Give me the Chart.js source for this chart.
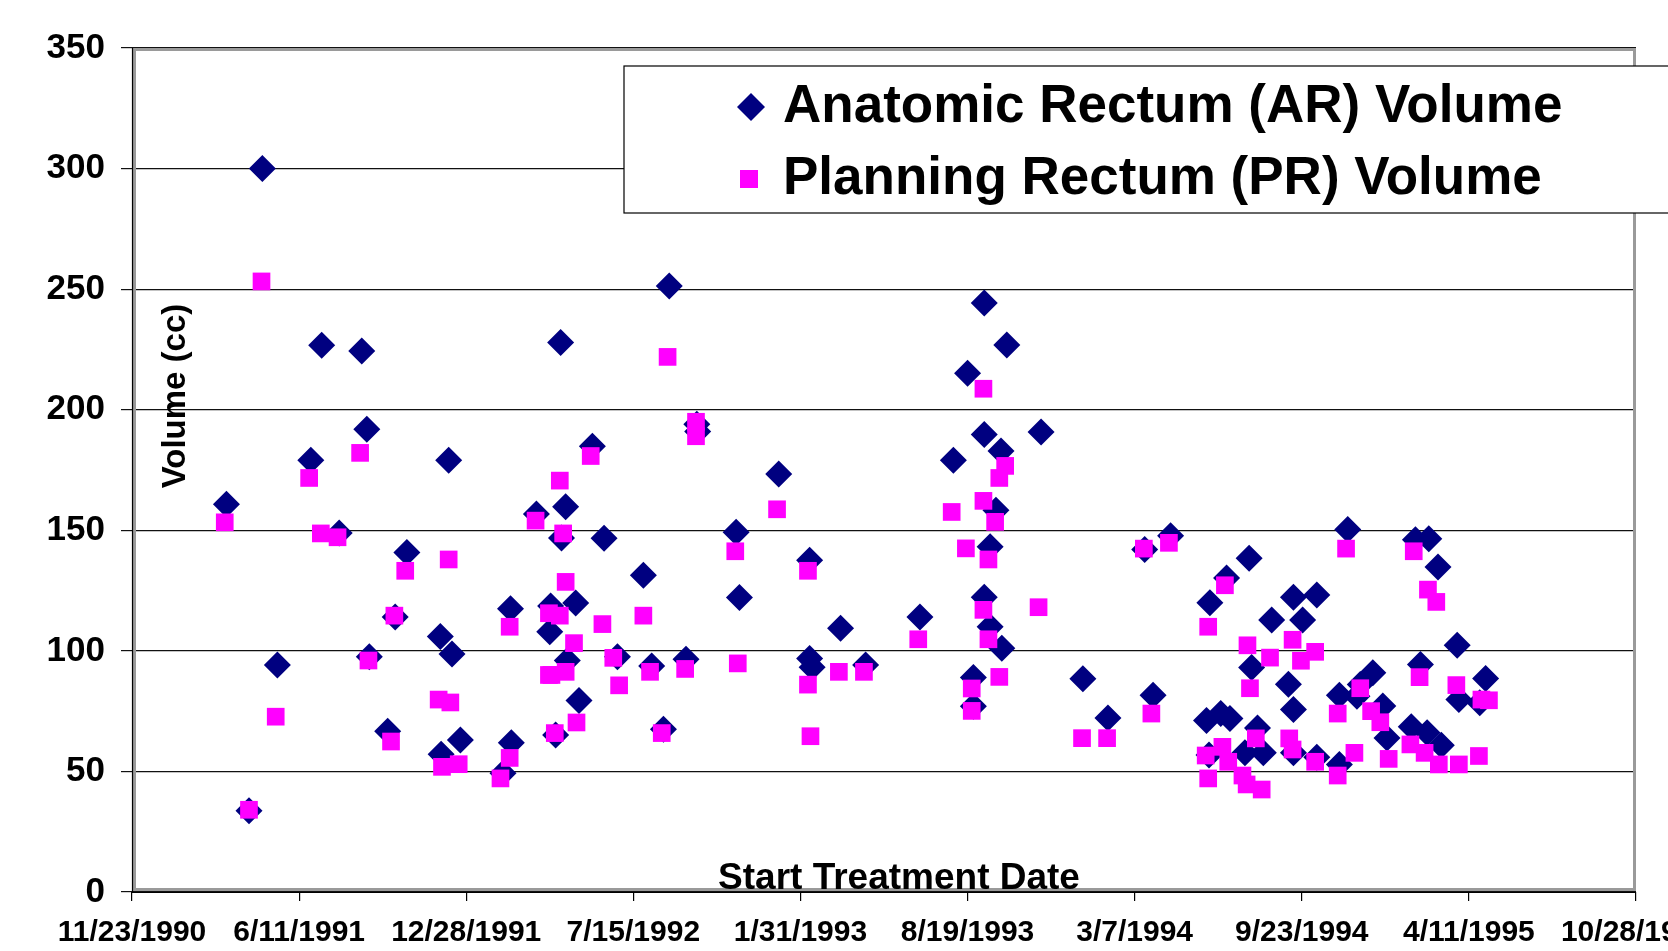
<!DOCTYPE html>
<html><head><meta charset="utf-8">
<script src="https://cdn.jsdelivr.net/npm/chart.js@4.4.1/dist/chart.umd.min.js"></script>
<style>html,body{margin:0;padding:0;background:#fff;overflow:hidden}</style>
</head><body>
<canvas id="c" width="1668" height="951"></canvas>
<script>
// ---------- data (x values are Excel date serials: 33200 = 11/23/1990) ----------
const seriesNames = ['Anatomic Rectum (AR) Volume', 'Planning Rectum (PR) Volume'];
const xTitle = 'Start Treatment Date';
const yTitle = 'Volume (cc)';
const xTickValues = [33200, 33400, 33600, 33800, 34000, 34200, 34400, 34600, 34800, 35000];
const xTickLabels = ['11/23/1990', '6/11/1991', '12/28/1991', '7/15/1992', '1/31/1993',
                     '8/19/1993', '3/7/1994', '9/23/1994', '4/11/1995', '10/28/1995'];
const yTickValues = [0, 50, 100, 150, 200, 250, 300, 350];

const arDates = [33313,33340,33356,33374,33414,33427,33448,33475,33481,33484,33506,33515,33529,
  33569,33570,33579,33583,33593,33644,33653,33654,33684,33700,33701,33707,33713,33714,33719,
  33721,33731,33735,33751,33765,33781,33812,33822,33836,33843,33863,33876,33877,33923,33927,
  33974,34011,34011,34014,34048,34078,34143,34183,34200,34207,34207,34220,34220,34220,34227,
  34227,34234,34240,34241,34247,34288,34338,34368,34412,34422,34443,34486,34489,34490,34503,
  34510,34514,34532,34537,34540,34547,34554,34564,34584,34590,34590,34590,34601,34618,34618,
  34645,34645,34655,34666,34670,34685,34697,34702,34731,34736,34742,34750,34752,34763,34767,
  34786,34788,34813,34820];
const arVolumes = [160.8,33.7,300,94.1,179.0,226.7,148.9,224.4,191.9,97.6,66.7,114.0,140.8,
  106.0,57.1,179.0,98.7,63.0,49.2,117.5,61.9,156.8,107.9,118.6,65.1,227.9,146.8,159.8,
  96.0,119.8,79.4,184.9,146.7,97.6,131.4,93.7,67.5,251.3,96.5,194,191,149.2,122.1,
  173.3,137.6,96.8,93.2,109.4,94.1,114.0,179.0,215.1,88.9,77.0,244.3,189.7,122.2,143.2,
  110.0,158.3,182.9,101.1,226.8,190.8,88.4,72.2,142.0,81.6,147.7,71.1,56.8,119.9,74,
  130.2,72,57.7,138.4,93.1,68.0,57.7,112.8,86.2,57.7,75.7,122.2,112.8,55.9,123.2,
  81.6,52.9,150.3,81.2,86,90.9,77.1,63.9,68.5,146.1,94.3,66.0,146.5,134.8,60.9,
  102.3,79.8,78.5,88.5];

const prDates = [33311,33340,33355,33372,33412,33426,33446,33473,33483,33510,33514,33527,
  33567,33571,33579,33581,33591,33641,33652,33652,33683,33699,33699,33702,33706,33712,33712,
  33716,33719,33719,33729,33732,33749,33763,33776,33783,33812,33820,33834,33841,33862,33875,
  33875,33922,33925,33972,34009,34009,34012,34046,34076,34141,34181,34198,34205,34205,34219,
  34219,34219,34225,34225,34233,34238,34238,34245,34285,34337,34367,34411,34420,34441,34485,
  34488,34488,34505,34508,34512,34529,34534,34535,34538,34545,34552,34562,34585,34589,34589,
  34599,34616,34616,34643,34643,34653,34663,34670,34683,34694,34704,34730,34734,34741,34747,
  34751,34761,34764,34785,34788,34812,34815,34824];
const prVolumes = [153.3,34.1,253.2,72.7,171.7,148.7,147.1,182.1,96.0,62.4,114.6,133.2,
  79.8,51.9,137.9,78.6,53.0,47.1,110.0,55.6,154.0,115.6,90.0,90.0,65.9,170.6,114.6,
  148.7,128.6,91.3,103.2,70.3,180.8,111.1,97.1,85.7,114.6,91.3,65.9,221.9,92.5,195,
  189,141.3,94.8,158.7,133.2,86.0,64.6,91.3,91.3,104.8,157.6,142.5,84.4,75.1,208.7,
  162.2,117.0,137.9,104.8,153.5,171.7,89.2,176.7,118.1,63.8,63.8,142.4,74.0,144.8,56.6,
  47.1,110.0,60.2,127.2,54.0,48.3,44.6,102.3,84.5,63.7,42.5,97.2,63.7,104.6,59.1,
  95.9,99.6,54.0,74.0,48.3,142.4,57.7,84.5,75.0,70.4,55.2,61.2,141.3,89.1,57.7,
  125.4,120.3,52.9,85.8,52.9,56.4,79.8,79.5];

// ---------- styles ----------
const FONT = "'Liberation Sans', Arial, sans-serif";
const AR_COLOR = '#000080';
const PR_COLOR = '#FF00FF';

const toPoints = (xs, ys) => xs.map((x, i) => ({ x: x, y: ys[i] }));

const framePlugin = {
  id: 'frame',
  beforeDatasetsDraw(chart) {
    const { ctx, chartArea: a } = chart;
    ctx.save();
    // gray plot-area border
    ctx.strokeStyle = '#9a9a9a';
    ctx.lineWidth = 3;
    ctx.strokeRect(a.left + 2.5, a.top + 1.5, a.right - a.left - 4, a.bottom - a.top - 4);
    // black axis lines
    ctx.strokeStyle = '#000';
    ctx.lineWidth = 1.2;
    ctx.beginPath();
    ctx.moveTo(a.left + 0.5, a.top);
    ctx.lineTo(a.left + 0.5, a.bottom + 0.5);
    ctx.lineTo(a.right, a.bottom + 0.5);
    ctx.stroke();
    // axis titles
    ctx.fillStyle = '#000';
    ctx.font = 'bold 37px ' + FONT;
    ctx.textAlign = 'center';
    ctx.textBaseline = 'alphabetic';
    ctx.fillText(xTitle, 899, 889);
    ctx.translate(185, 396);
    ctx.rotate(-Math.PI / 2);
    ctx.font = 'bold 33px ' + FONT;
    ctx.fillText(yTitle, 0, 0);
    ctx.restore();
  },
  afterDraw(chart) {
    const { ctx } = chart;
    ctx.save();
    // legend box (extends past the right edge)
    ctx.fillStyle = '#fff';
    ctx.fillRect(624, 66, 1100, 147);
    ctx.strokeStyle = '#000';
    ctx.lineWidth = 1.2;
    ctx.strokeRect(624, 66, 1100, 147);
    // markers
    ctx.fillStyle = AR_COLOR;
    ctx.beginPath();
    ctx.moveTo(737, 107); ctx.lineTo(751, 93); ctx.lineTo(765, 107); ctx.lineTo(751, 121);
    ctx.closePath(); ctx.fill();
    ctx.fillStyle = PR_COLOR;
    ctx.fillRect(740, 170, 18, 18);
    // texts
    ctx.fillStyle = '#000';
    ctx.font = 'bold 53px ' + FONT;
    ctx.textAlign = 'left';
    ctx.textBaseline = 'alphabetic';
    ctx.fillText(seriesNames[0], 783, 122);
    ctx.fillText(seriesNames[1], 783, 194);
    ctx.restore();
  }
};

new Chart(document.getElementById('c'), {
  type: 'scatter',
  data: {
    datasets: [
      { label: seriesNames[1], data: toPoints(prDates, prVolumes), pointStyle: 'rect',
        radius: 12.5, backgroundColor: PR_COLOR, borderColor: PR_COLOR, borderWidth: 0 },
      { label: seriesNames[0], data: toPoints(arDates, arVolumes), pointStyle: 'rectRot',
        radius: 13.5, backgroundColor: AR_COLOR, borderColor: AR_COLOR, borderWidth: 0 }
    ]
  },
  options: {
    responsive: false,
    animation: false,
    devicePixelRatio: 1,
    layout: { padding: { top: 48, right: 32, left: 0, bottom: 0 } },
    plugins: { legend: { display: false }, tooltip: { enabled: false } },
    events: [],
    scales: {
      x: {
        type: 'linear', position: 'bottom', min: 33200, max: 35000,
        afterBuildTicks: s => { s.ticks = xTickValues.map(v => ({ value: v })); },
        afterFit: s => { s.height = 59; s.paddingLeft = 0; s.paddingRight = 0; },
        ticks: {
          autoSkip: false, maxRotation: 0, minRotation: 0, padding: 14, color: '#000',
          font: { family: FONT, size: 30, weight: 'bold' },
          callback: v => xTickLabels[xTickValues.indexOf(v)]
        },
        grid: { drawOnChartArea: false, drawTicks: true, tickLength: 9, color: '#000', lineWidth: 1.2 },
        border: { display: false }
      },
      y: {
        min: 0, max: 350,
        afterBuildTicks: s => { s.ticks = yTickValues.map(v => ({ value: v })); },
        afterFit: s => { s.width = 132; s.paddingTop = 0; s.paddingBottom = 0; },
        ticks: {
          padding: 16, color: '#000',
          font: { family: FONT, size: 35, weight: 'bold' }
        },
        grid: { color: '#111', lineWidth: 1.2, tickLength: 11, drawTicks: true },
        border: { display: false }
      }
    }
  },
  plugins: [framePlugin]
});
</script>
</body></html>
